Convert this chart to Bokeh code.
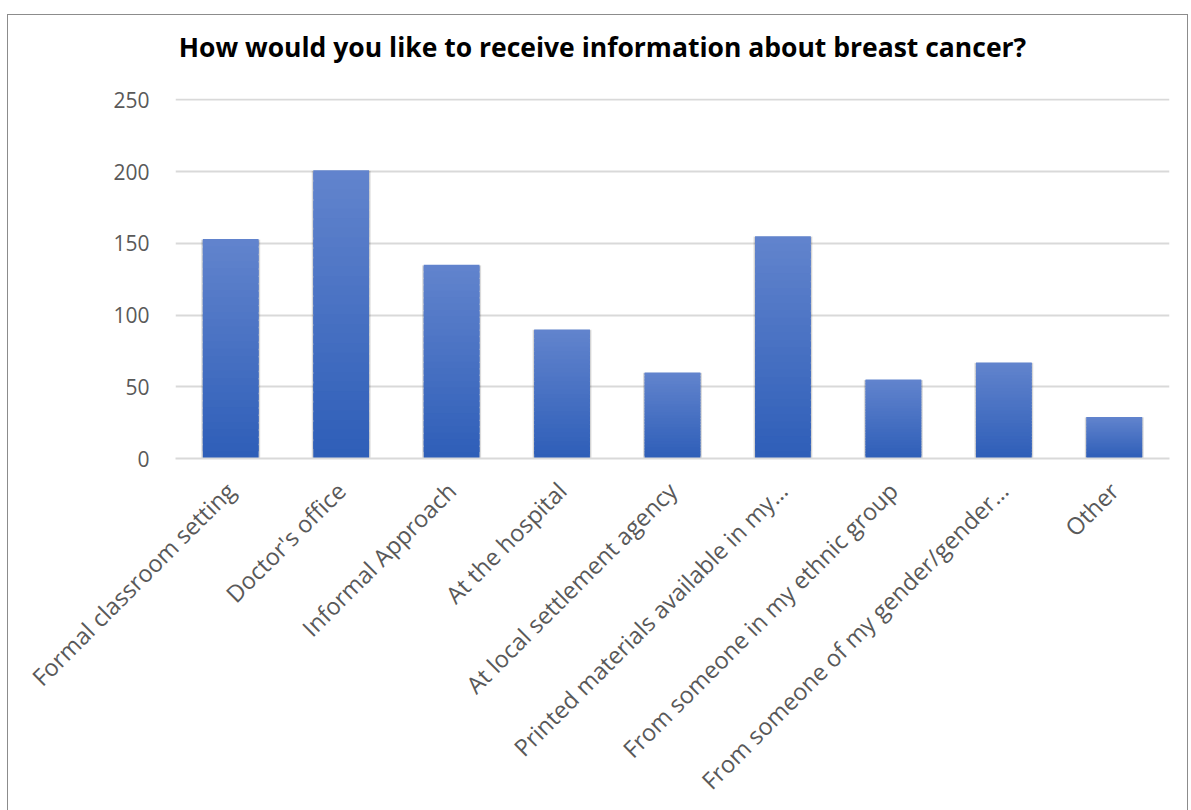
from bokeh.plotting import figure
from bokeh.models import FactorRange, Range1d, FixedTicker, Div
from bokeh.layouts import column
from bokeh.embed import file_html
from bokeh.resources import INLINE

title_text = "How would you like to receive information about breast cancer?"
categories = [
    "Formal classroom setting",
    "Doctor's office",
    "Informal Approach",
    "At the hospital",
    "At local settlement agency",
    "Printed materials available in my…",
    "From someone in my ethnic group",
    "From someone of my gender/gender…",
    "Other",
]
counts = [153, 201, 135, 90, 60, 155, 55, 67, 29]
y_ticks = [0, 50, 100, 150, 200, 250]

W = 1179
TITLE_H = 70
H = 810 - 15 - TITLE_H
TOP = 13
FRAME_H = 364

title_div = Div(
    text=("<div style='width:%dpx;text-align:center;padding-left:10px;box-sizing:border-box;"
          "padding-top:17px;font-family:\"Open Sans\";font-weight:bold;font-size:26.5px;"
          "line-height:30px;color:black;white-space:nowrap'>%s</div>") % (W, title_text),
    width=W, height=TITLE_H,
    styles={"margin": "0", "padding": "0", "background": "white"},
)

p = figure(
    x_range=FactorRange(*categories, range_padding=0),
    y_range=Range1d(0, 251),
    width=W, height=H,
    output_backend="svg", toolbar_location=None,
    min_border_left=167, min_border_right=18, min_border_top=TOP,
    min_border_bottom=H - TOP - FRAME_H,
)
p.outline_line_color = None
p.background_fill_color = "white"
p.border_fill_color = "white"
p.title.visible = False

# gradient bars built from stacked, slightly overlapping slices
N = 30
top_c = (98, 132, 205)
bot_c = (46, 94, 184)
xs, bots, tops, cols = [], [], [], []
for c, v in zip(categories, counts):
    for k in range(N):
        f = (k + 0.5) / N
        r = round(bot_c[0] + (top_c[0] - bot_c[0]) * f)
        g = round(bot_c[1] + (top_c[1] - bot_c[1]) * f)
        b = round(bot_c[2] + (top_c[2] - bot_c[2]) * f)
        xs.append(c)
        bots.append(v * k / N)
        tops.append(min(v, v * (k + 1.8) / N))
        cols.append("#%02x%02x%02x" % (r, g, b))

# soft shadow
p.vbar(x=categories, top=[v - 0.3 for v in counts], bottom=-1.6, width=0.535,
       fill_color="black", fill_alpha=0.10, line_color=None)
p.vbar(x=categories, top=[v - 0.6 for v in counts], bottom=-1.0, width=0.525,
       fill_color="black", fill_alpha=0.08, line_color=None)
p.vbar(x=xs, bottom=bots, top=tops, width=0.505, fill_color=cols, line_color=None)

# axes
p.yaxis.ticker = FixedTicker(ticks=y_ticks)
p.yaxis.axis_line_color = None
p.yaxis.major_tick_line_color = None
p.yaxis.minor_tick_line_color = None
p.yaxis.major_label_standoff = 20
p.yaxis.major_label_text_font = "Open Sans"
p.yaxis.major_label_text_font_size = "21px"
p.yaxis.major_label_text_color = "#595959"

p.xaxis.axis_line_color = "#d9d9d9"
p.xaxis.axis_line_width = 2
p.xaxis.major_tick_line_color = None
p.xaxis.minor_tick_line_color = None
p.xaxis.major_label_orientation = 0.785398
p.xaxis.major_label_standoff = 22
p.xaxis.major_label_text_font = "Open Sans"
p.xaxis.major_label_text_font_size = "23.5px"
p.xaxis.major_label_text_color = "#595959"

p.xgrid.grid_line_color = None
p.ygrid.grid_line_color = "#d9d9d9"
p.ygrid.grid_line_width = 2

layout = column(
    title_div, p, spacing=0,
    styles={
        "margin-left": "7px", "margin-top": "14px", "background": "white",
        "border-left": "1px solid #8c8c8c", "border-top": "1px solid #8c8c8c",
        "border-right": "1px solid #8c8c8c",
    },
)

open("out.html", "w").write(file_html(layout, INLINE))
